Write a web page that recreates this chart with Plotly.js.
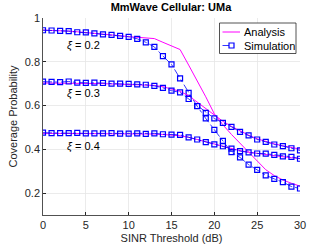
<!DOCTYPE html>
<html>
<head>
<meta charset="utf-8">
<script src="https://cdn.plot.ly/plotly-3.0.1.min.js"></script>
<style>html,body{margin:0;padding:0;background:#fff;}#c{width:332px;height:249px;}</style>
</head>
<body>
<div id="c"></div>
<script>
var sinr = [0,1,2,3,4,5,6,7,8,9,10,11,12,13,14,15,16,17,18,19,20,21,22,23,24,25,26,27,28,29,30];

var ana02 = [0.945,0.944,0.942,0.940,0.937,0.934,0.930,0.927,0.923,0.919,0.915,0.912,0.909,0.906,0.889,0.873,0.856,0.785,0.715,0.640,0.562,0.512,0.468,0.428,0.388,0.347,0.307,0.280,0.260,0.245,0.232];
var ana03 = [0.703,0.703,0.702,0.702,0.702,0.701,0.701,0.700,0.699,0.698,0.697,0.696,0.694,0.692,0.686,0.677,0.665,0.645,0.615,0.585,0.555,0.528,0.505,0.484,0.465,0.448,0.436,0.425,0.416,0.408,0.401];
var ana04 = [0.473,0.473,0.473,0.473,0.473,0.473,0.473,0.473,0.473,0.472,0.472,0.472,0.471,0.470,0.468,0.466,0.462,0.455,0.445,0.433,0.423,0.413,0.403,0.394,0.387,0.381,0.376,0.371,0.366,0.362,0.358];

var sim02 = [0.944,0.943,0.941,0.940,0.935,0.934,0.930,0.925,0.923,0.918,0.914,0.905,0.889,0.868,0.826,0.788,0.724,0.658,0.597,0.541,0.489,0.439,0.387,0.363,0.330,0.306,0.281,0.265,0.250,0.230,0.221];
var sim03 = [0.709,0.708,0.707,0.710,0.705,0.704,0.705,0.703,0.700,0.700,0.699,0.697,0.695,0.690,0.681,0.668,0.660,0.630,0.598,0.567,0.541,0.521,0.503,0.480,0.464,0.445,0.434,0.422,0.415,0.405,0.395];
var sim04 = [0.476,0.474,0.474,0.474,0.475,0.473,0.473,0.473,0.474,0.472,0.472,0.473,0.471,0.473,0.469,0.467,0.466,0.455,0.445,0.433,0.423,0.414,0.403,0.392,0.386,0.381,0.380,0.375,0.368,0.366,0.357];

var xiLabels = ['<i>ξ</i> = 0.2','<i>ξ</i> = 0.3','<i>ξ</i> = 0.4'];
var xiLabelX = [4.7, 4.7, 4.7];
var xiLabelY = [0.876, 0.655, 0.415];

var legendNames = ['Analysis','Simulation'];

var FONT = 'Liberation Sans, Arial, Helvetica, sans-serif';
var MAG = '#ff00ff', BLU = '#0000ff';

function ana(y){ return {x:sinr, y:y, type:'scatter', mode:'lines', name:legendNames[0], showlegend:false, line:{color:MAG, width:1}}; }
function sim(y){ return {x:sinr, y:y, type:'scatter', mode:'lines+markers', name:legendNames[1], showlegend:false, line:{color:BLU, width:0.8, dash:'dashdot'}, marker:{symbol:'square-open', size:5, color:BLU, line:{width:1.2, color:BLU}}}; }

var data = [ana(ana02), sim(sim02), ana(ana03), sim(sim03), ana(ana04), sim(sim04)];

// plot-area geometry (pixels) for placing the legend box in paper coordinates
var L = 43, R = 300, T = 18, B = 215;
function px(v){ return (v - L) / (R - L); }
function py(v){ return (B - v) / (B - T); }

var annotations = xiLabels.map(function(t,i){
  return {x:xiLabelX[i], y:xiLabelY[i], xref:'x', yref:'y', text:t, showarrow:false, font:{family:FONT, size:11, color:'#000'}};
});
var legY = [32, 45.5];
legendNames.forEach(function(n,i){
  annotations.push({x:px(241.5), y:py(legY[i]), xref:'paper', yref:'paper', xanchor:'left', yanchor:'middle', text:n, showarrow:false, font:{family:FONT, size:11, color:'#000'}});
});

var shapes = [
  {type:'rect', xref:'paper', yref:'paper', x0:px(219.5), x1:px(296), y0:py(23), y1:py(53.5), line:{color:'#262626', width:0.8}, fillcolor:'#fff', layer:'above'},
  {type:'line', xref:'paper', yref:'paper', x0:px(222.5), x1:px(240), y0:py(legY[0]), y1:py(legY[0]), line:{color:MAG, width:1}, layer:'above'},
  {type:'line', xref:'paper', yref:'paper', x0:px(222.5), x1:px(240), y0:py(legY[1]), y1:py(legY[1]), line:{color:BLU, width:0.8, dash:'dash'}, layer:'above'},
  {type:'rect', xref:'paper', yref:'paper', x0:px(229), x1:px(234), y0:py(legY[1]-2.5), y1:py(legY[1]+2.5), line:{color:BLU, width:1.2}, fillcolor:'#fff', layer:'above'}
];

var layout = {
  width:332, height:249,
  margin:{l:L, r:332-R, t:T, b:249-B, pad:0},
  paper_bgcolor:'#fff', plot_bgcolor:'#fff',
  font:{family:FONT, size:11, color:'#262626'},
  title:{text:'<b>MmWave Cellular: UMa</b>', font:{family:FONT, size:11, color:'#000'}, x:0.515, xanchor:'center', y:0.985, yanchor:'top'},
  xaxis:{range:[0,30], tickvals:[0,5,10,15,20,25,30], ticks:'inside', ticklen:3, tickcolor:'#262626',
         showline:true, linecolor:'#262626', linewidth:0.8, mirror:false, zeroline:false,
         showgrid:true, gridcolor:'#e6e6e6', gridwidth:0.8,
         tickfont:{size:11, color:'#262626'},
         title:{text:'SINR Threshold (dB)', font:{size:11, color:'#262626'}, standoff:4}},
  yaxis:{range:[0.1,1], tickvals:[0.2,0.4,0.6,0.8,1], ticktext:['0.2','0.4','0.6','0.8','1'], ticks:'inside', ticklen:3, tickcolor:'#262626',
         showline:true, linecolor:'#262626', linewidth:0.8, mirror:false, zeroline:false,
         showgrid:true, gridcolor:'#e6e6e6', gridwidth:0.8,
         tickfont:{size:11, color:'#262626'},
         title:{text:'Coverage Probability', font:{size:11, color:'#262626'}, standoff:4}},
  annotations:annotations,
  shapes:shapes,
  showlegend:false
};

Plotly.newPlot('c', data, layout, {staticPlot:true, displayModeBar:false});
</script>
</body>
</html>
